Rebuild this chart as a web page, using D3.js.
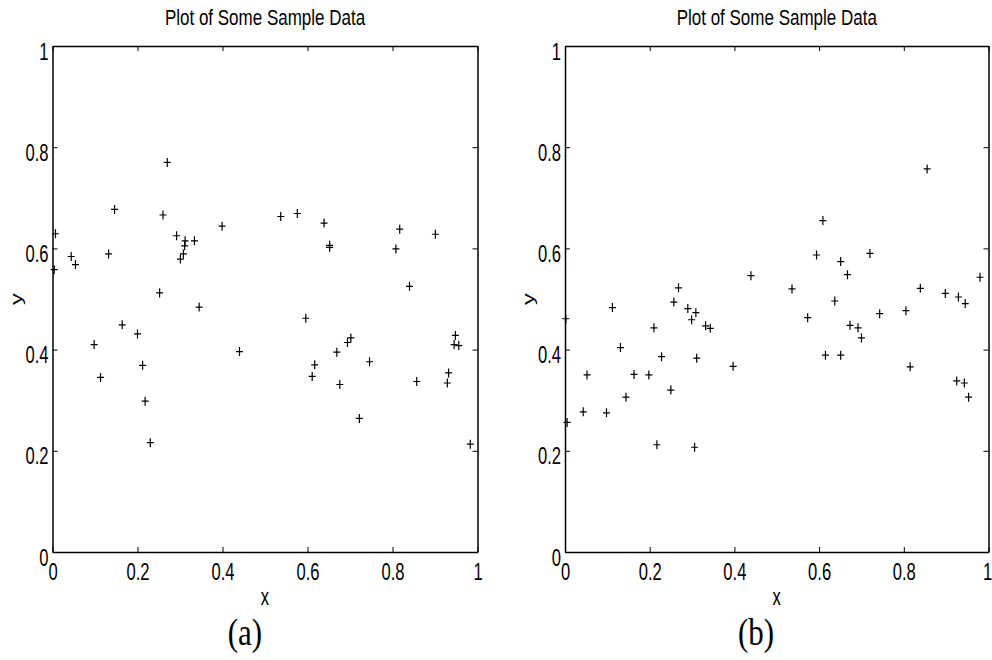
<!DOCTYPE html>
<html>
<head>
<meta charset="utf-8">
<script src="https://cdn.jsdelivr.net/npm/d3@7"></script>
<style>
  body { margin: 0; background: #fff; }
  svg { display: block; }
  text { font-family: "Liberation Sans", Arial, sans-serif; fill: #000; }
</style>
</head>
<body>
<svg id="chart"></svg>
<script>
// panel (a) sample points
const xA = [0.270, 0.146, 0.260, 0.007, 0.399, 0.292, 0.312, 0.334, 0.311, 0.308,
            0.301, 0.132, 0.044, 0.054, 0.004, 0.252, 0.345, 0.164, 0.200, 0.098,
            0.440, 0.212, 0.113, 0.218, 0.230, 0.537, 0.576, 0.639, 0.652, 0.652,
            0.817, 0.901, 0.808, 0.840, 0.596, 0.702, 0.694, 0.669, 0.617, 0.611,
            0.676, 0.746, 0.722, 0.857, 0.948, 0.945, 0.956, 0.932, 0.929, 0.983];
const yA = [0.770, 0.677, 0.666, 0.629, 0.644, 0.625, 0.615, 0.615, 0.605, 0.589,
            0.579, 0.589, 0.584, 0.568, 0.558, 0.512, 0.484, 0.449, 0.431, 0.410,
            0.396, 0.369, 0.345, 0.298, 0.216, 0.663, 0.669, 0.650, 0.606, 0.602,
            0.638, 0.628, 0.599, 0.525, 0.462, 0.423, 0.414, 0.395, 0.370, 0.347,
            0.331, 0.376, 0.264, 0.337, 0.428, 0.410, 0.408, 0.354, 0.334, 0.213];

// panel (b) sample points
const xB = [0.439, 0.268, 0.257, 0.112, 0.290, 0.309, 0.299, 0.002, 0.332, 0.343,
            0.210, 0.131, 0.228, 0.311, 0.397, 0.052, 0.163, 0.198, 0.250, 0.144,
            0.043, 0.098, 0.005, 0.217, 0.306, 0.855, 0.609, 0.594, 0.720, 0.651,
            0.667, 0.536, 0.839, 0.980, 0.898, 0.929, 0.945, 0.637, 0.573, 0.743,
            0.805, 0.673, 0.692, 0.700, 0.615, 0.651, 0.815, 0.925, 0.943, 0.953];
const yB = [0.546, 0.522, 0.494, 0.483, 0.481, 0.473, 0.459, 0.461, 0.447, 0.442,
            0.443, 0.404, 0.386, 0.383, 0.367, 0.350, 0.351, 0.350, 0.320, 0.306,
            0.277, 0.275, 0.256, 0.212, 0.207, 0.757, 0.655, 0.587, 0.590, 0.574,
            0.548, 0.520, 0.521, 0.543, 0.511, 0.504, 0.491, 0.496, 0.463, 0.471,
            0.477, 0.448, 0.443, 0.423, 0.389, 0.389, 0.366, 0.338, 0.334, 0.306];

const tickVals = [0, 0.2, 0.4, 0.6, 0.8, 1];
const title = "Plot of Some Sample Data";
const captions = ["(a)", "(b)"];

const W = 992, H = 660;
const svg = d3.select("#chart").attr("width", W).attr("height", H);

const plotTop = 46, plotBottom = 552;
const panels = [
  { left: 52.5, right: 477.5, xs: xA, ys: yA, cap: captions[0], capX: 245 },
  { left: 565, right: 988.5, xs: xB, ys: yB, cap: captions[1], capX: 756 }
];

const fmt = d => String(d);
const stretch = "scale(1,1.43)"; // figure text is stretched vertically

panels.forEach(p => {
  const x = d3.scaleLinear().domain([0, 1]).range([p.left, p.right]);
  const y = d3.scaleLinear().domain([0, 1]).range([plotBottom, plotTop]);
  const g = svg.append("g");

  const styleAxis = sel => {
    sel.select(".domain").attr("stroke", "#000").attr("stroke-width", 1.5);
    sel.selectAll(".tick line").attr("stroke", "#000").attr("stroke-width", 1);
  };

  // bottom
  g.append("g")
    .attr("transform", `translate(0,${plotBottom})`)
    .call(d3.axisBottom(x).tickValues(tickVals).tickFormat(fmt).tickSizeInner(-5).tickSizeOuter(0))
    .call(styleAxis)
    .call(a => a.selectAll("text")
      .attr("y", 0).attr("dy", null)
      .attr("font-size", 16.6)
      // keep the last label inside the page edge
      .attr("transform", d => `translate(${x(d) + 5 > W ? W - 5 - x(d) : 0},28) ${stretch}`));

  // top
  g.append("g")
    .attr("transform", `translate(0,${plotTop})`)
    .call(d3.axisTop(x).tickValues(tickVals).tickFormat("").tickSizeInner(-5).tickSizeOuter(0))
    .call(styleAxis);

  // left
  g.append("g")
    .attr("transform", `translate(${p.left},0)`)
    .call(d3.axisLeft(y).tickValues(tickVals).tickFormat(fmt).tickSizeInner(-5).tickSizeOuter(0))
    .call(styleAxis)
    .call(a => a.selectAll("text")
      .attr("x", 0).attr("dy", null)
      .attr("font-size", 16.6)
      .attr("transform", `translate(-4,13) ${stretch}`));

  // right
  g.append("g")
    .attr("transform", `translate(${p.right},0)`)
    .call(d3.axisRight(y).tickValues(tickVals).tickFormat("").tickSizeInner(-5).tickSizeOuter(0))
    .call(styleAxis);

  // markers
  g.append("g")
    .selectAll("path")
    .data(p.xs.map((v, i) => [v, p.ys[i]]))
    .join("path")
    .attr("transform", d => `translate(${x(d[0])},${y(d[1])})`)
    .attr("d", "M-3.5,0H3.5M0,-4.5V4.5")
    .attr("stroke", "#000")
    .attr("stroke-width", 1.2)
    .attr("fill", "none");

  const cx = (p.left + p.right) / 2;

  g.append("text")
    .attr("transform", `translate(${cx},25) scale(1,1.25)`)
    .attr("text-anchor", "middle")
    .attr("font-size", 17)
    .text(title);

  g.append("text")
    .attr("transform", `translate(${cx},605) ${stretch}`)
    .attr("text-anchor", "middle")
    .attr("font-size", 16.6)
    .text("x");

  g.append("text")
    .attr("transform", `translate(${p.left - 31},${(plotTop + plotBottom) / 2}) ${stretch} rotate(-90)`)
    .attr("text-anchor", "middle")
    .attr("font-size", 16.6)
    .text("y");

  g.append("text")
    .attr("transform", `translate(${p.capX},645) scale(1,1.25)`)
    .attr("text-anchor", "middle")
    .style("font-family", "'Liberation Serif', 'DejaVu Serif', serif")
    .attr("font-size", 31)
    .text(p.cap);
});
</script>
</body>
</html>
